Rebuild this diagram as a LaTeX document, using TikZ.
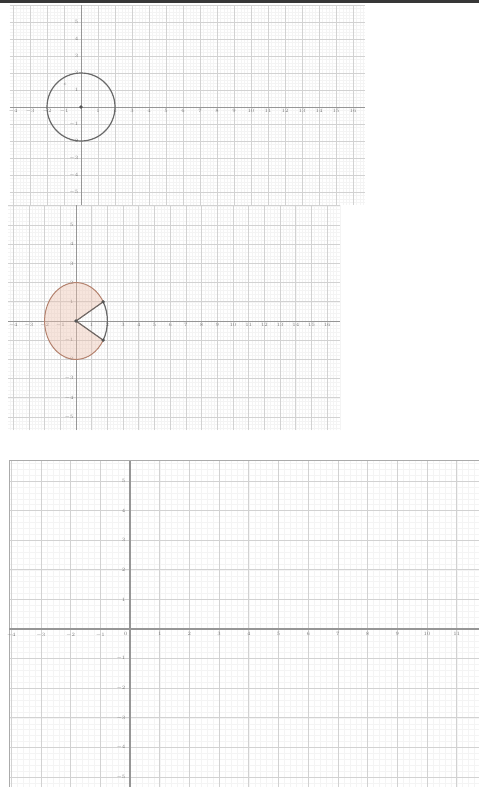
\documentclass[tikz,border=0pt]{standalone}
\usepackage{tikz}
\definecolor{gmajor}  {RGB}{210,210,210}
\definecolor{gminor}  {RGB}{244,244,244}
\definecolor{gaxis}   {RGB}{150,150,150}
\definecolor{gtext}   {RGB}{120,120,120}
\definecolor{gcurve}  {RGB}{105,105,105}
\definecolor{sfill}   {RGB}{236,190,170}
\definecolor{sedge}   {RGB}{180,130,110}
\definecolor{topbar}  {RGB}{55,55,55}
\tikzset{
    minorgrid/.style={draw=gminor, line width=0.4pt},
    majorgrid/.style={draw=gmajor, line width=0.7pt},
    axisline/.style={draw=gaxis, line width=1pt},
    frameline/.style={draw=gaxis!80, line width=1pt},
    ticklabel/.style={text=gtext, inner sep=0pt, font={\fontsize{3.5}{4}\selectfont}},
    bigticklabel/.style={text=gtext, inner sep=0pt, font={\fontsize{5}{6}\selectfont}},
    curve/.style={draw=gcurve, line width=1.2pt},
    sector/.style={draw=sedge, line width=1pt, fill=sfill, fill opacity=0.4},
    dot/.style={fill=gcurve!80!black}
  }

\begin{document}
\begin{tikzpicture}
 \useasboundingbox[fill=white] (0pt,0pt) rectangle (479pt,-787pt);
 %Top bar
     \draw[topbar, line width=3pt] (0pt,-1.5pt) -- (479pt,-1.5pt);

 %Panel 1: circle
 \begin{scope}[shift={(81pt,-107pt)}, x=17pt, y=17pt]
     \draw[minorgrid, step=0.2] (-4.18,-5.76) grid (16.7,6.0);
     \draw[majorgrid, step=1] (-4.18,-5.76) grid (16.7,6.0);
     \draw[axisline, line width=0.8pt] (-4.18,0) -- (16.7,0);
     \draw[axisline, line width=0.8pt] (0,-5.76) -- (0,6.0);
     \foreach \k in {-4,...,-1,1,2,...,16}
       \node[ticklabel, anchor=north] (xa\k) at (\k,-0.12) {$\k$};
     \foreach \k in {-5,...,-1,1,2,...,5}
       \node[ticklabel, anchor=east] (ya\k) at (-0.15,\k) {$\k$};
     \coordinate (oa) at (0,0);
     \draw[curve] (oa) circle[radius=2];
     \fill[dot] (oa) circle (1.8pt);
     \node[ticklabel] (ca) at (-0.94,1.35) {$c$};
 \end{scope}

 %Panel 2: sector
 \begin{scope}[shift={(76pt,-321pt)}, x=15.7pt, y=19.2pt]
     \draw[minorgrid, step=0.2] (-4.33,-5.68) grid (16.8,6.04);
     \draw[majorgrid, step=1] (-4.33,-5.68) grid (16.8,6.04);
     \draw[axisline, line width=0.8pt] (-4.33,0) -- (16.8,0);
     \draw[axisline, line width=0.8pt] (0,-5.68) -- (0,6.04);
     \foreach \k in {-4,...,-1,1,2,...,16}
       \node[ticklabel, anchor=north] (xb\k) at (\k,-0.12) {$\k$};
     \foreach \k in {-5,...,-1,1,2,...,5}
       \node[ticklabel, anchor=east] (yb\k) at (-0.15,\k) {$\k$};
     \coordinate (ob) at (0,0);
     \coordinate (pb) at (30:2);
     \coordinate (qb) at (-30:2);
     \filldraw[sector] (ob) -- (pb) arc[start angle=30, end angle=330, radius=2] -- cycle;
     \draw[curve] (qb) arc[start angle=-30, end angle=30, radius=2];
     \draw[curve, line width=1pt] (pb) -- (ob) -- (qb);
     \fill[dot] (ob) circle (1.8pt);
     \fill[dot] (pb) circle (1.8pt);
     \fill[dot] (qb) circle (1.8pt);
 \end{scope}

 %Panel 3: empty axes
 \begin{scope}[shift={(130pt,-629pt)}, x=29.7pt, y=29.6pt]
     \draw[minorgrid, step=0.2] (-4.07,-5.34) grid (11.75,5.68);
     \draw[majorgrid, step=1] (-4.07,-5.34) grid (11.75,5.68);
     \draw[frameline] (-4.07,-5.34) -- (-4.07,5.68) -- (11.75,5.68);
     \draw[axisline, line width=1.5pt] (-4.07,0) -- (11.75,0);
     \draw[axisline, line width=1.5pt] (0,-5.34) -- (0,5.68);
     \foreach \k in {-4,...,-1,1,2,...,11}
       \node[bigticklabel, anchor=north] (xc\k) at (\k,-0.12) {$\k$};
     \node[bigticklabel, anchor=north east] (zc) at (-0.08,-0.12) {$0$};
     \foreach \k in {-5,...,-1,1,2,...,5}
       \node[bigticklabel, anchor=east] (yc\k) at (-0.15,\k) {$\k$};
 \end{scope}
 \end{tikzpicture}
\end{document}
